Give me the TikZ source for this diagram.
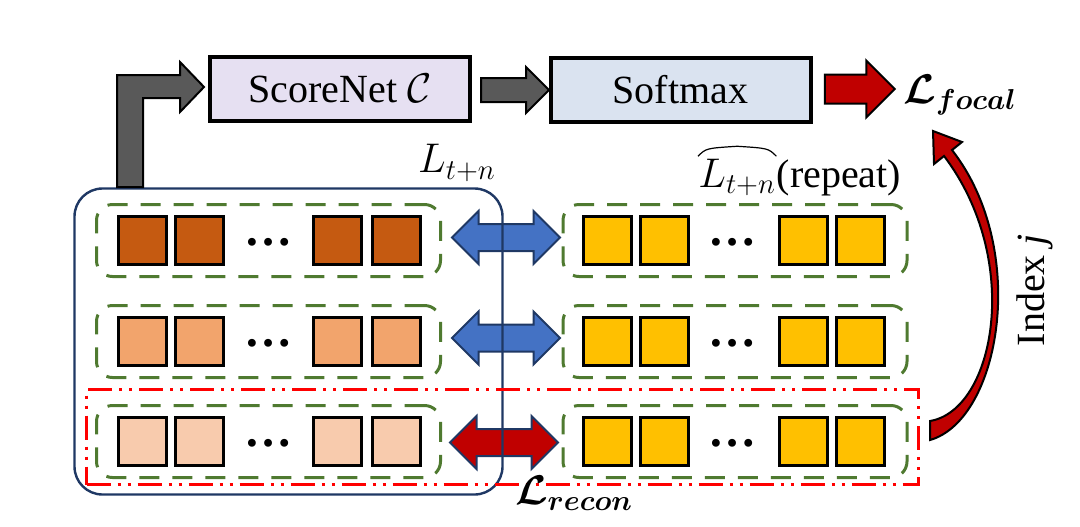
\documentclass[tikz,border=0pt]{standalone}
\usepackage{bm}
\usepackage{fontspec}
\setmainfont{Liberation Serif}
\usetikzlibrary{shapes.arrows}

\definecolor{scorefill}{HTML}{E6E0F2}
\definecolor{softfill}{HTML}{DAE3F0}
\definecolor{arrgray}{HTML}{595959}
\definecolor{focalred}{HTML}{C00000}
\definecolor{swapblue}{HTML}{4472C4}
\definecolor{navy}{HTML}{1F3864}
\definecolor{grpgreen}{HTML}{4F7A30}
\definecolor{cellA}{HTML}{C55A11}
\definecolor{cellB}{HTML}{F2A46C}
\definecolor{cellC}{HTML}{F8CBAD}
\definecolor{cellY}{HTML}{FFC000}

\begin{document}
\begin{tikzpicture}[x=0.5pt, y=-0.5pt,
    box/.style={draw=black, line width=2pt, minimum width=130pt,
        minimum height=32pt, font=\fontsize{20}{24}\selectfont},
    cell/.style={draw=black, line width=1.5pt, minimum size=24pt, inner sep=0pt},
    grp/.style={draw=grpgreen, line width=1.5pt, dash pattern=on 10pt off 6.5pt,
        rounded corners=8pt, minimum width=172pt, minimum height=36pt},
    dots/.style={font=\fontsize{24}{24}\bfseries\selectfont, inner sep=0pt},
    flow/.style={single arrow, draw=black, line width=1pt, text height=0pt,
        text depth=0pt, inner xsep=0pt, minimum height=34pt},
    swap/.style={double arrow, draw=navy, line width=1pt, text height=0pt,
        text depth=0pt, inner xsep=0pt, inner ysep=6.25pt,
        double arrow head extend=6.5pt, minimum height=54pt},
    lbl/.style={font=\fontsize{20}{24}\selectfont, inner sep=0pt}
]
    \useasboundingbox (0,0) rectangle (1080,526);

    % top row
    \node[box, fill=scorefill] (score) at (340,89) {ScoreNet $\mathcal{C}$};
    \node[box, fill=softfill] (soft) at (680.5,90) {Softmax};
    \node[flow, fill=arrgray, inner ysep=5.5pt, single arrow head extend=5.5pt] (s2s) at (509,90) {};
    \node[flow, fill=focalred, inner ysep=6.75pt, single arrow head extend=7pt,
        minimum height=35pt] (s2f) at (852.5,89) {};
    \node[lbl] (focal) at (960,95) {$\bm{\mathcal{L}}_{\bm{focal}}$};

    % rows of tokens
    \foreach \r/\y/\c in {1/240.5/cellA, 2/341.5/cellB, 3/441.5/cellC}{
        \node[grp] (lg\r) at (268.5,\y) {};
        \node[grp] (rg\r) at (735,\y) {};
        \foreach \n/\x in {a/142.5, b/199, c/337.5, d/396}
            \node[cell, fill=\c] (l\r\n) at (\x,\y) {};
        \foreach \n/\x in {a/607.5, b/664, c/803, d/860.5}
            \node[cell, fill=cellY] (r\r\n) at (\x,\y) {};
        \node[dots] (ld\r) at (268,\y+2) {…};
        \node[dots] (rd\r) at (732,\y+2) {…};
    }

    % matching arrows
    \node[swap, fill=swapblue] (sw1) at (506,237.5) {};
    \node[swap, fill=swapblue] (sw2) at (506,338) {};
    \node[swap, fill=focalred] (sw3) at (504,442.5) {};

    % L_{t+n} group
    \node[draw=navy, line width=1.2pt, rounded corners=14pt, minimum width=214pt,
        minimum height=153pt] (lbox) at (288.5,341.5) {};
    \node[lbl] (ltn) at (457,163) {$L_{t+n}$};
    \node[lbl, anchor=base west] (repl) at (698,187) {$L_{t+n}$};
    \node[lbl, anchor=base west] (rept) at (repl.base east) {(repeat)};
    \draw[line width=0.6pt] ([yshift=1pt]repl.north west)
        .. controls ([yshift=5pt,xshift=4pt]repl.north west) .. ([yshift=6pt]repl.north)
        .. controls ([yshift=5pt,xshift=-4pt]repl.north east) .. ([yshift=1pt]repl.north east);

    % selected index
    \node[draw=red, line width=1.5pt, minimum width=416pt, minimum height=47.5pt,
        dash pattern=on 12pt off 3.5pt on 1.5pt off 3.5pt on 1.5pt off 3.5pt] (sel) at (502.5,437) {};
    \node[lbl] (recon) at (574,493) {$\bm{\mathcal{L}}_{\bm{recon}}$};

    % elbow arrow into ScoreNet
    \draw[fill=arrgray, draw=black, line width=1pt]
        (117,187) -- (117,75) -- (180,75) -- (180,62) -- (204,87)
        -- (180,112) -- (180,98) -- (143,98) -- (143,187) -- cycle;

    % curved arrow back to focal loss
    \draw[fill=focalred, draw=black, line width=1pt]
        (930,440) .. controls (1000,420) and (1030,250) .. (952,150)
        -- (962,142) -- (933,131) -- (934,164) -- (944,156)
        .. controls (1023,260) and (995,410) .. (930,421) -- cycle;
    \node[lbl, rotate=90] (idx) at (1035,290) {Index \textit{j}};
\end{tikzpicture}
\end{document}
